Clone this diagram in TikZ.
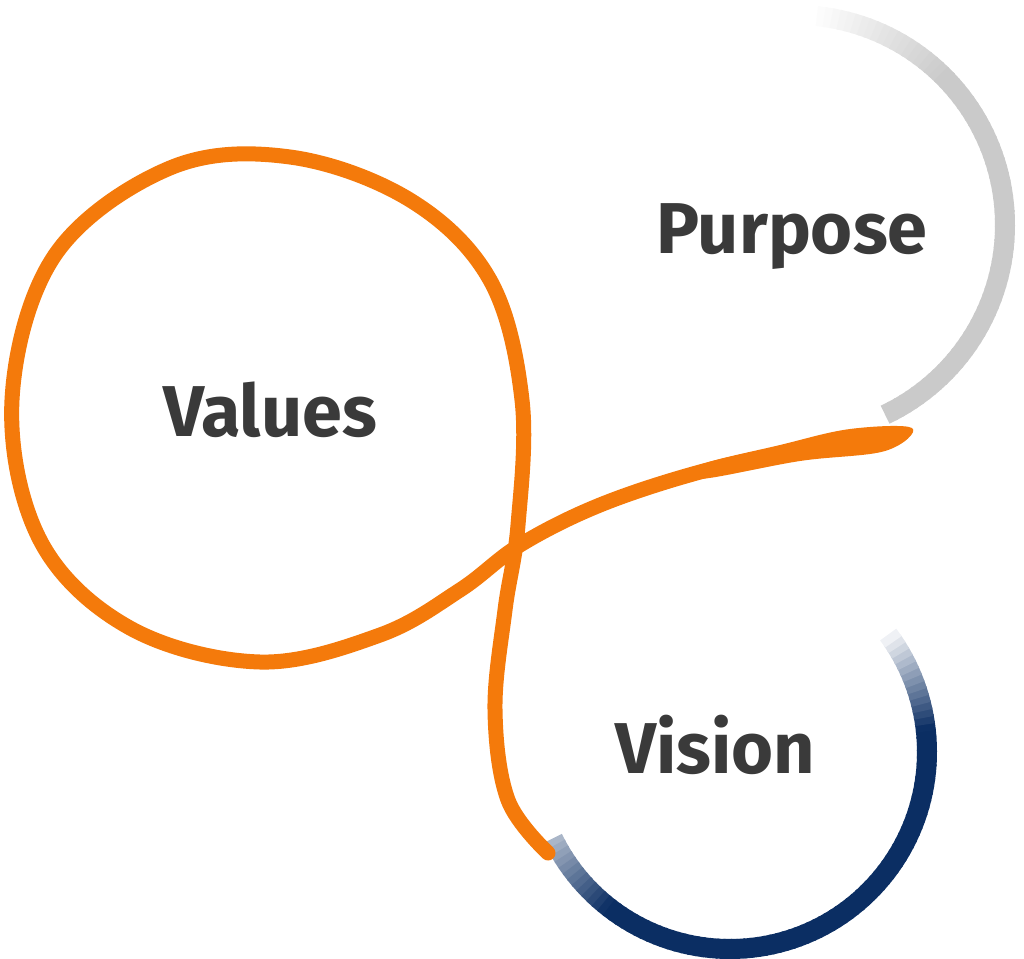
\documentclass[tikz,border=0pt]{standalone}
\usepackage{fontspec}
\setmainfont{Fira Sans}
\usetikzlibrary{calc}
\begin{document}
\begin{tikzpicture}[x=1pt,y=1pt,
  lbl/.style={font=\fontsize{72}{72}\selectfont\bfseries, text=txt, inner sep=0},
  orangeline/.style={draw=orng, line width=15pt, line cap=round, line join=round}]
\definecolor{orng}{HTML}{F47A0B}
\definecolor{navy}{HTML}{0B2E63}
\definecolor{grayarc}{HTML}{CACACA}
\definecolor{txt}{HTML}{3A3A3A}
\useasboundingbox (0,0) rectangle (1024,-958);
% gray arc (Purpose)
\foreach \a in {86,84,...,-62}{
  \pgfmathsetmacro{\m}{min(100,max(0,(86-\a)*2.5))}
  \draw[draw=grayarc!\m!white, line width=20pt] ($(795,-225)+(\a:210)$) arc[start angle=\a, end angle=\a-2.6, radius=210];
}
% blue arc (Vision)
\foreach \a in {206,208,...,394}{
  \pgfmathsetmacro{\m}{min(100,max(0,min(35+(\a-206)*2.6,(396-\a)*3.3)))}
  \draw[draw=navy!\m!white, line width=20pt] ($(730,-752)+(\a:197)$) arc[start angle=\a, end angle=\a+2.6, radius=197];
}
% orange loop
\draw[orangeline] plot[smooth, tension=0.6] coordinates {(880,-436) (800,-450) (700,-472) (600,-505) (520,-545) (460,-590) (380,-635) (260,-662) (130,-628) (40,-540) (12,-400) (55,-255) (170,-168) (290,-157) (410,-200) (490,-280) (522,-400) (518,-525) (505,-610) (495,-710) (508,-800) (548,-853)};
\fill[orng] plot[smooth cycle, tension=0.6] coordinates {(700,-465) (780,-445) (850,-429) (912,-428) (885,-451) (800,-461) (700,-479)};
\node[lbl] (purpose) at (792,-237) {Purpose};
\node[lbl] (values) at (270,-410) {Values};
\node[lbl] (vision) at (715,-745) {Vision};
\end{tikzpicture}
\end{document}
